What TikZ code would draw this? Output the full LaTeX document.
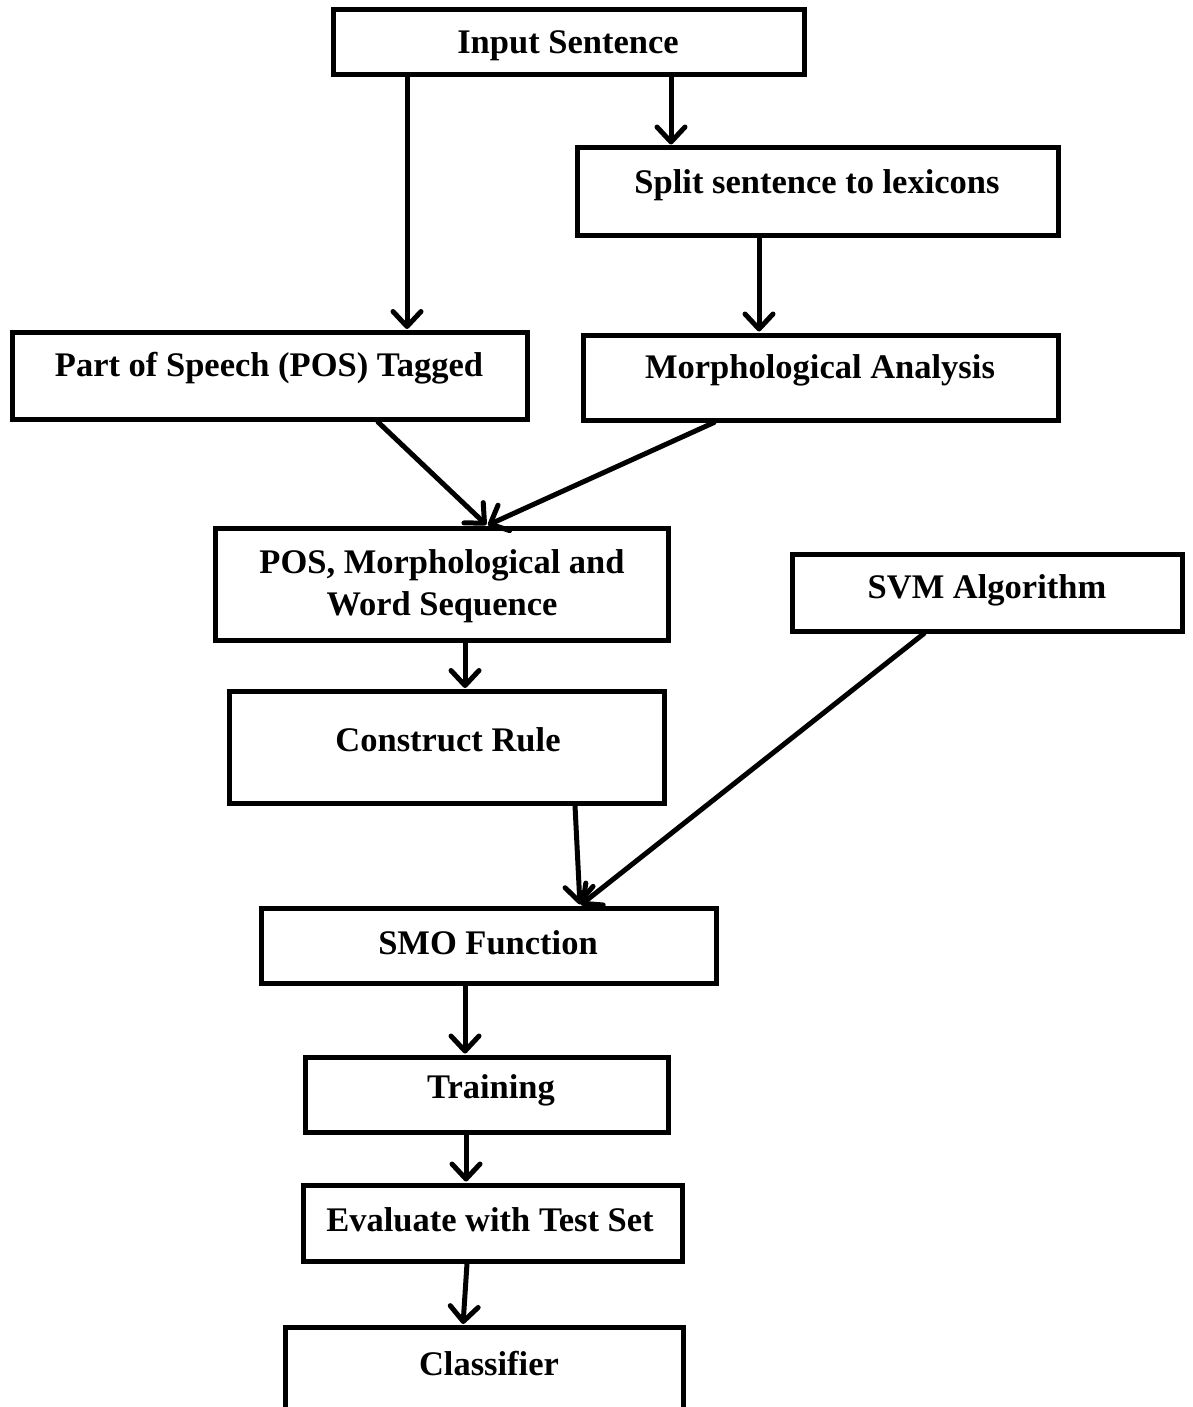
\documentclass[tikz,border=0pt]{standalone}
\usepackage{fontspec}
\setmainfont{Liberation Serif}
\usetikzlibrary{arrows.meta}
\begin{document}
\begin{tikzpicture}[x=1pt,y=-1pt,
  box/.style={draw=black,line width=5pt,rectangle,inner sep=0pt},
  lbl/.style={font=\fontsize{34.5}{42}\selectfont\bfseries,align=center,inner sep=0pt},
  flow/.style={line width=5pt,line cap=round,
    -{Straight Barb[length=15pt,width=28pt,line cap=round,line join=round]},shorten >=1pt}]
\useasboundingbox (0,0) rectangle (1192,1407);
% box from centre-line corners (x1,y1) to (x2,y2)
\newcommand\flowbox[5]{%
  \node[box,minimum width={#4-#2},minimum height={#5-#3}] (#1) at ({(#2+#4)/2},{(#3+#5)/2}) {};}
\flowbox{inp}{333}{10}{804}{75}
\flowbox{split}{577}{148}{1058}{235}
\flowbox{pos}{12.5}{332.5}{527}{419.5}
\flowbox{morph}{583}{335}{1058}{420}
\flowbox{seq}{215.5}{528}{668}{640.5}
\flowbox{svm}{792.5}{554.5}{1182}{631}
\flowbox{rule}{229.5}{691.5}{664}{803}
\flowbox{smo}{261}{908}{716}{983}
\flowbox{train}{305}{1057}{668}{1132}
\flowbox{eval}{303}{1185}{682}{1261}
\flowbox{cls}{285.5}{1327.5}{683}{1420}
% labels
\node[lbl] (tinp) at (568,46) {Input Sentence};
\node[lbl] (tsplit) at (817,185) {Split sentence to lexicons};
\node[lbl] (tpos) at (269,368) {Part of Speech (POS) Tagged};
\node[lbl] (tmorph) at (820,370) {Morphological Analysis};
\node[lbl] (tseq) at (442,586) {POS, Morphological and\\Word Sequence};
\node[lbl] (tsvm) at (987,590) {SVM Algorithm};
\node[lbl] (trule) at (448,740) {Construct Rule};
\node[lbl] (tsmo) at (488,943) {SMO Function};
\node[lbl] (ttrain) at (491,1090) {Training};
\node[lbl] (teval) at (490,1220) {Evaluate with Test Set};
\node[lbl] (tcls) at (489,1364) {Classifier};
% connectors
\draw[flow] (inp.south -| 671,0) -- (split.north -| 671,0);
\draw[flow] (inp.south -| 407,0) -- (pos.north -| 407,0);
\draw[flow] (split.south -| 759,0) -- (morph.north -| 759,0);
\coordinate (seqin) at (seq.north -| 487,0);
\draw[flow] (pos.south -| 378,0) -- (seqin);
\draw[flow] (morph.south -| 714,0) -- (seqin);
\draw[flow] (seq.south -| 465,0) -- (rule.north -| 465,0);
\coordinate (smoin) at (smo.north -| 580,0);
\draw[flow] (rule.south -| 575,0) -- (smoin);
\draw[flow] (svm.south -| 924,0) -- (smoin);
\draw[flow] (smo.south -| 465,0) -- (train.north -| 465,0);
\draw[flow] (train.south -| 466,0) -- (eval.north -| 466,0);
\draw[flow] (eval.south -| 467,0) -- (cls.north -| 463,0);
\end{tikzpicture}
\end{document}
